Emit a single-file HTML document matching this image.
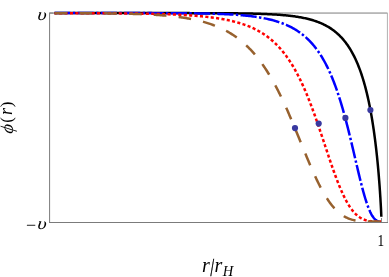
<!DOCTYPE html>
<html><head><meta charset="utf-8"><title>plot</title>
<style>
html,body{margin:0;padding:0;background:#fff;}
body{width:389px;height:277px;overflow:hidden;position:relative;font-family:"Liberation Serif",serif;}
svg{position:absolute;left:0;top:0;display:block;will-change:transform;}
text{font-family:"Liberation Serif",serif;fill:#000;}
</style></head><body>
<svg width="389" height="277" viewBox="0 0 389 277">
<rect width="389" height="277" fill="#fff"/>
<g fill="none" stroke-width="1">
<path d="M50,13.05 H387.5" stroke="#7c7c7c"/>
<path d="M387.4,13 V222" stroke="#b0b0b0"/>
</g>
<path d="M54.50,13.10 L55.67,13.10 L56.83,13.10 L58.00,13.10 L59.16,13.10 L60.32,13.10 L61.47,13.10 L62.63,13.10 L63.78,13.10 L64.92,13.10 L66.07,13.10 L67.21,13.10 L68.35,13.10 L69.49,13.10 L70.63,13.10 L71.76,13.10 L72.89,13.10 L74.02,13.10 L75.15,13.10 L76.27,13.10 L77.39,13.10 L78.51,13.10 L79.63,13.10 L80.74,13.10 L81.85,13.10 L82.96,13.10 L84.06,13.10 L85.17,13.10 L86.27,13.10 L87.37,13.10 L88.46,13.10 L89.56,13.10 L90.65,13.10 L91.74,13.10 L92.83,13.10 L93.91,13.10 L94.99,13.10 L96.07,13.10 L97.15,13.10 L98.22,13.10 L99.29,13.10 L100.36,13.10 L101.43,13.10 L102.49,13.10 L103.56,13.10 L104.62,13.10 L105.67,13.10 L106.73,13.10 L107.78,13.10 L108.83,13.10 L109.88,13.10 L110.92,13.10 L111.96,13.10 L113.01,13.10 L114.04,13.10 L115.08,13.10 L116.11,13.10 L117.14,13.10 L118.17,13.10 L119.20,13.10 L120.22,13.10 L121.24,13.10 L122.26,13.10 L123.28,13.10 L124.29,13.10 L125.30,13.10 L126.31,13.10 L127.32,13.10 L128.32,13.10 L129.32,13.10 L130.32,13.10 L131.32,13.10 L132.31,13.10 L133.31,13.10 L134.30,13.10 L135.28,13.10 L136.27,13.10 L137.25,13.10 L138.23,13.10 L139.21,13.10 L140.19,13.10 L141.16,13.10 L142.13,13.10 L143.10,13.10 L144.07,13.10 L145.03,13.10 L145.99,13.10 L146.95,13.10 L147.91,13.10 L148.86,13.10 L149.81,13.10 L150.76,13.10 L151.71,13.10 L152.66,13.10 L153.60,13.10 L154.54,13.10 L155.48,13.10 L156.42,13.10 L157.35,13.10 L158.28,13.10 L159.21,13.10 L160.14,13.11 L161.06,13.11 L161.98,13.11 L162.90,13.11 L163.82,13.11 L164.73,13.11 L165.65,13.11 L166.56,13.11 L167.46,13.11 L168.37,13.11 L169.27,13.11 L170.18,13.11 L171.07,13.11 L171.97,13.11 L172.87,13.11 L173.76,13.11 L174.65,13.11 L175.53,13.11 L176.42,13.11 L177.30,13.11 L178.18,13.11 L179.06,13.11 L179.94,13.11 L180.81,13.12 L181.68,13.12 L182.55,13.12 L183.42,13.12 L184.28,13.12 L185.15,13.12 L186.01,13.12 L186.86,13.12 L187.72,13.12 L188.57,13.12 L189.42,13.12 L190.27,13.13 L191.12,13.13 L191.96,13.13 L192.80,13.13 L193.64,13.13 L194.48,13.13 L195.32,13.13 L196.15,13.13 L196.98,13.14 L197.81,13.14 L198.64,13.14 L199.46,13.14 L200.28,13.14 L201.10,13.14 L201.92,13.15 L202.73,13.15 L203.55,13.15 L204.36,13.15 L205.17,13.16 L205.97,13.16 L206.78,13.16 L207.58,13.16 L208.38,13.16 L209.18,13.17 L209.97,13.17 L210.76,13.17 L211.55,13.18 L212.34,13.18 L213.13,13.18 L213.91,13.18 L214.70,13.19 L215.48,13.19 L216.25,13.20 L217.03,13.20 L217.80,13.20 L218.57,13.21 L219.34,13.21 L220.11,13.21 L220.87,13.22 L221.64,13.22 L222.40,13.23 L223.15,13.23 L223.91,13.24 L224.66,13.24 L225.41,13.25 L226.16,13.25 L226.91,13.26 L227.66,13.26 L228.40,13.27 L229.14,13.28 L229.88,13.28 L230.61,13.29 L231.35,13.30 L232.08,13.30 L232.81,13.31 L233.54,13.32 L234.26,13.32 L234.99,13.33 L235.71,13.34 L236.43,13.35 L237.15,13.36 L237.86,13.37 L238.57,13.38 L239.28,13.38 L239.99,13.39 L240.70,13.40 L241.40,13.41 L242.11,13.42 L242.81,13.43 L244.20,13.46 L245.58,13.48 L246.96,13.50 L248.33,13.53 L249.69,13.56 L251.04,13.59 L252.39,13.62 L253.72,13.65 L255.05,13.68 L256.37,13.72 L257.68,13.76 L258.98,13.80 L260.27,13.84 L261.56,13.88 L262.84,13.93 L264.10,13.98 L265.37,14.03 L266.62,14.08 L267.86,14.13 L269.10,14.19 L270.33,14.25 L271.55,14.32 L272.76,14.38 L273.96,14.45 L275.16,14.52 L276.35,14.60 L277.53,14.68 L278.70,14.76 L279.87,14.85 L281.02,14.94 L282.17,15.03 L283.31,15.13 L284.44,15.23 L285.57,15.34 L286.68,15.45 L287.79,15.56 L288.89,15.68 L289.99,15.80 L291.07,15.93 L292.15,16.07 L293.22,16.21 L294.28,16.35 L295.34,16.50 L296.39,16.65 L297.42,16.82 L298.46,16.98 L299.48,17.16 L300.50,17.34 L301.51,17.52 L302.51,17.71 L303.50,17.91 L304.49,18.12 L305.46,18.33 L306.44,18.55 L307.40,18.78 L308.36,19.02 L309.30,19.26 L310.25,19.51 L311.18,19.77 L312.11,20.04 L313.02,20.31 L313.94,20.60 L314.84,20.89 L315.74,21.19 L316.63,21.51 L317.51,21.83 L318.39,22.16 L319.25,22.50 L320.11,22.85 L320.97,23.21 L321.82,23.58 L322.65,23.96 L323.49,24.36 L324.31,24.76 L325.13,25.17 L325.94,25.60 L326.75,26.04 L327.54,26.49 L328.33,26.95 L329.12,27.42 L329.89,27.90 L330.66,28.40 L331.42,28.91 L332.18,29.43 L332.93,29.97 L333.67,30.52 L334.40,31.08 L335.13,31.66 L335.85,32.24 L336.57,32.85 L337.27,33.46 L337.97,34.09 L338.67,34.74 L339.36,35.40 L340.04,36.07 L340.71,36.76 L341.38,37.46 L342.04,38.18 L342.69,38.91 L343.34,39.66 L343.98,40.43 L344.62,41.21 L345.25,42.00 L345.87,42.81 L346.48,43.64 L347.09,44.48 L347.70,45.34 L348.29,46.21 L348.88,47.11 L349.46,48.01 L350.04,48.94 L350.61,49.88 L351.18,50.83 L351.74,51.80 L352.29,52.79 L352.83,53.80 L353.37,54.82 L353.91,55.86 L354.44,56.92 L354.96,57.99 L355.47,59.08 L355.98,60.19 L356.48,61.31 L356.98,62.45 L357.47,63.60 L357.96,64.78 L358.44,65.97 L358.91,67.17 L359.38,68.39 L359.84,69.63 L360.30,70.89 L360.75,72.16 L361.19,73.45 L361.63,74.75 L362.06,76.07 L362.49,77.40 L362.70,78.08 L362.91,78.75 L363.12,79.43 L363.33,80.12 L363.53,80.81 L363.74,81.50 L363.94,82.20 L364.14,82.90 L364.34,83.60 L364.54,84.31 L364.74,85.02 L364.93,85.74 L365.13,86.45 L365.32,87.18 L365.51,87.90 L365.71,88.63 L365.89,89.36 L366.08,90.10 L366.27,90.84 L366.45,91.58 L366.64,92.33 L366.82,93.08 L367.00,93.84 L367.18,94.59 L367.36,95.35 L367.54,96.12 L367.71,96.88 L367.89,97.65 L368.06,98.43 L368.23,99.20 L368.40,99.98 L368.57,100.76 L368.74,101.55 L368.90,102.34 L369.07,103.13 L369.23,103.92 L369.40,104.72 L369.56,105.52 L369.72,106.32 L369.87,107.13 L370.03,107.93 L370.19,108.74 L370.34,109.56 L370.50,110.37 L370.65,111.19 L370.80,112.01 L370.95,112.83 L371.10,113.66 L371.24,114.48 L371.39,115.31 L371.54,116.15 L371.68,116.98 L371.82,117.82 L371.96,118.65 L372.10,119.49 L372.24,120.33 L372.38,121.18 L372.51,122.02 L372.65,122.87 L372.78,123.72 L372.91,124.57 L373.04,125.42 L373.17,126.27 L373.30,127.13 L373.43,127.98 L373.56,128.84 L373.68,129.70 L373.81,130.56 L373.93,131.42 L374.05,132.28 L374.17,133.14 L374.29,134.00 L374.41,134.87 L374.52,135.73 L374.64,136.60 L374.75,137.46 L374.87,138.33 L374.98,139.20 L375.09,140.06 L375.20,140.93 L375.31,141.80 L375.42,142.66 L375.52,143.53 L375.63,144.40 L375.73,145.27 L375.84,146.13 L375.94,147.00 L376.04,147.87 L376.14,148.73 L376.24,149.60 L376.34,150.46 L376.43,151.33 L376.53,152.19 L376.62,153.05 L376.72,153.91 L376.81,154.77 L376.90,155.63 L376.99,156.49 L377.08,157.34 L377.17,158.20 L377.25,159.05 L377.34,159.90 L377.42,160.75 L377.51,161.60 L377.59,162.45 L377.67,163.29 L377.75,164.13 L377.83,164.97 L377.91,165.81 L377.99,166.64 L378.06,167.48 L378.14,168.31 L378.21,169.13 L378.29,169.96 L378.36,170.78 L378.43,171.60 L378.50,172.41 L378.57,173.22 L378.64,174.03 L378.71,174.84 L378.77,175.64 L378.84,176.44 L378.90,177.23 L378.97,178.02 L379.03,178.81 L379.09,179.59 L379.15,180.37 L379.21,181.14 L379.27,181.91 L379.33,182.67 L379.39,183.43 L379.44,184.19 L379.50,184.94 L379.55,185.69 L379.61,186.43 L379.66,187.16 L379.71,187.89 L379.76,188.62 L379.81,189.34 L379.86,190.05 L379.91,190.76 L379.96,191.46 L380.05,192.85 L380.14,194.21 L380.23,195.55 L380.31,196.86 L380.39,198.15 L380.46,199.40 L380.53,200.63 L380.60,201.83 L380.67,203.00 L380.73,204.14 L380.79,205.25 L380.85,206.32 L380.91,207.37 L380.96,208.38 L381.01,209.35 L381.05,210.29 L381.10,211.20 L381.14,212.07 L381.17,212.90 L381.21,213.70 L381.24,214.45 L381.27,215.18 L381.32,216.19 L381.34,216.81" fill="none" stroke="#000000" stroke-width="2.5" stroke-linecap="butt" stroke-linejoin="round"/>
<path d="M54.50,13.10 L55.67,13.10 L56.83,13.10 L58.00,13.10 L59.16,13.10 L60.32,13.10 L61.47,13.10 L62.63,13.10 L63.78,13.10 L64.92,13.10 L66.07,13.10 L67.21,13.10 L68.35,13.10 L69.49,13.10 L70.63,13.10 L71.76,13.10 L72.89,13.10 L74.02,13.10 L75.15,13.10 L76.27,13.10 L77.39,13.10 L78.51,13.10 L79.63,13.10 L80.74,13.10 L81.85,13.10 L82.96,13.10 L84.06,13.10 L85.17,13.10 L86.27,13.10 L87.37,13.10 L88.46,13.10 L89.56,13.10 L90.65,13.10 L91.74,13.10 L92.83,13.10 L93.91,13.10 L94.99,13.10 L96.07,13.10 L97.15,13.10 L98.22,13.10 L99.29,13.10 L100.36,13.10 L101.43,13.10 L102.49,13.10 L103.56,13.10 L104.62,13.10 L105.67,13.10 L106.73,13.10 L107.78,13.10 L108.83,13.10 L109.88,13.10 L110.92,13.10 L111.96,13.10 L113.01,13.10 L114.04,13.10 L115.08,13.10 L116.11,13.10 L117.14,13.10 L118.17,13.10 L119.20,13.10 L120.22,13.10 L121.24,13.10 L122.26,13.10 L123.28,13.10 L124.29,13.10 L125.30,13.10 L126.31,13.10 L127.32,13.11 L128.32,13.11 L129.32,13.11 L130.32,13.11 L131.32,13.11 L132.31,13.11 L133.31,13.11 L134.30,13.11 L135.28,13.11 L136.27,13.11 L137.25,13.11 L138.23,13.11 L139.21,13.11 L140.19,13.11 L141.16,13.11 L142.13,13.11 L143.10,13.11 L144.07,13.12 L145.03,13.12 L145.99,13.12 L146.95,13.12 L147.91,13.12 L148.86,13.12 L149.81,13.12 L150.76,13.12 L151.71,13.12 L152.66,13.13 L153.60,13.13 L154.54,13.13 L155.48,13.13 L156.42,13.13 L157.35,13.13 L158.28,13.14 L159.21,13.14 L160.14,13.14 L161.06,13.14 L161.98,13.15 L162.90,13.15 L163.82,13.15 L164.73,13.15 L165.65,13.16 L166.56,13.16 L167.46,13.16 L168.37,13.16 L169.27,13.17 L170.18,13.17 L171.07,13.17 L171.97,13.18 L172.87,13.18 L173.76,13.19 L174.65,13.19 L175.53,13.20 L176.42,13.20 L177.30,13.20 L178.18,13.21 L179.06,13.22 L179.94,13.22 L180.81,13.23 L181.68,13.23 L182.55,13.24 L183.42,13.24 L184.28,13.25 L185.15,13.26 L186.01,13.27 L186.86,13.27 L187.72,13.28 L188.57,13.29 L189.42,13.30 L190.27,13.31 L191.12,13.31 L191.96,13.32 L192.80,13.33 L193.64,13.34 L194.48,13.35 L195.32,13.36 L196.15,13.38 L196.98,13.39 L197.81,13.40 L198.64,13.41 L199.46,13.42 L200.28,13.44 L201.10,13.45 L201.92,13.46 L202.73,13.48 L203.55,13.49 L204.36,13.51 L205.17,13.53 L205.97,13.54 L206.78,13.56 L207.58,13.58 L208.38,13.59 L209.18,13.61 L209.97,13.63 L210.76,13.65 L211.55,13.67 L212.34,13.69 L213.13,13.72 L213.91,13.74 L214.70,13.76 L215.48,13.79 L216.25,13.81 L217.03,13.83 L217.80,13.86 L218.57,13.89 L219.34,13.92 L220.11,13.94 L220.87,13.97 L221.64,14.00 L222.40,14.03 L223.15,14.06 L223.91,14.10 L224.66,14.13 L225.41,14.17 L226.16,14.20 L226.91,14.24 L227.66,14.27 L228.40,14.31 L229.14,14.35 L229.88,14.39 L230.61,14.43 L231.35,14.48 L232.08,14.52 L232.81,14.56 L233.54,14.61 L234.26,14.66 L234.99,14.70 L235.71,14.75 L236.43,14.80 L237.15,14.86 L237.86,14.91 L238.57,14.96 L239.28,15.02 L239.99,15.08 L240.70,15.13 L241.40,15.19 L242.11,15.25 L242.81,15.32 L243.50,15.38 L244.89,15.51 L246.27,15.65 L247.65,15.80 L249.01,15.95 L250.37,16.11 L251.72,16.27 L253.05,16.45 L254.39,16.63 L255.71,16.82 L257.02,17.01 L258.33,17.22 L259.63,17.43 L260.92,17.65 L262.20,17.88 L263.47,18.12 L264.74,18.37 L265.99,18.63 L267.24,18.90 L268.48,19.18 L269.72,19.47 L270.94,19.77 L272.16,20.08 L273.36,20.41 L274.56,20.74 L275.76,21.09 L276.94,21.45 L278.12,21.83 L279.28,22.22 L280.44,22.62 L281.60,23.03 L282.74,23.46 L283.88,23.91 L285.01,24.37 L286.13,24.84 L287.24,25.33 L288.35,25.84 L289.44,26.37 L290.53,26.91 L291.61,27.47 L292.69,28.05 L293.75,28.64 L294.81,29.26 L295.86,29.90 L296.91,30.55 L297.94,31.23 L298.97,31.92 L299.99,32.64 L301.00,33.38 L302.01,34.14 L303.00,34.93 L303.99,35.74 L304.98,36.57 L305.95,37.43 L306.92,38.31 L307.88,39.22 L308.83,40.15 L309.78,41.11 L310.71,42.10 L311.64,43.12 L312.57,44.16 L313.02,44.69 L313.48,45.23 L313.94,45.78 L314.39,46.33 L314.84,46.90 L315.29,47.46 L315.74,48.04 L316.18,48.63 L316.63,49.22 L317.07,49.82 L317.51,50.42 L317.95,51.04 L318.39,51.66 L318.82,52.29 L319.25,52.93 L319.69,53.58 L320.11,54.24 L320.54,54.90 L320.97,55.57 L321.39,56.25 L321.82,56.94 L322.24,57.64 L322.65,58.34 L323.07,59.05 L323.49,59.77 L323.90,60.50 L324.31,61.24 L324.72,61.99 L325.13,62.75 L325.54,63.51 L325.94,64.28 L326.34,65.06 L326.75,65.85 L327.14,66.65 L327.54,67.46 L327.94,68.28 L328.33,69.10 L328.72,69.94 L329.12,70.78 L329.50,71.63 L329.89,72.49 L330.28,73.36 L330.66,74.23 L331.04,75.12 L331.42,76.01 L331.80,76.92 L332.18,77.83 L332.55,78.75 L332.93,79.68 L333.30,80.61 L333.67,81.56 L334.04,82.51 L334.40,83.47 L334.77,84.44 L335.13,85.42 L335.49,86.41 L335.85,87.40 L336.21,88.40 L336.57,89.41 L336.92,90.43 L337.27,91.45 L337.63,92.48 L337.97,93.52 L338.32,94.57 L338.67,95.63 L339.01,96.69 L339.36,97.75 L339.70,98.83 L340.04,99.91 L340.38,101.00 L340.71,102.09 L341.05,103.19 L341.38,104.30 L341.71,105.41 L342.04,106.53 L342.37,107.65 L342.69,108.78 L343.02,109.91 L343.34,111.05 L343.66,112.19 L343.98,113.34 L344.30,114.49 L344.62,115.64 L344.93,116.80 L345.25,117.96 L345.56,119.13 L345.87,120.29 L346.18,121.46 L346.48,122.64 L346.79,123.81 L347.09,124.99 L347.39,126.17 L347.70,127.35 L347.99,128.53 L348.29,129.71 L348.59,130.89 L348.88,132.08 L349.17,133.26 L349.46,134.44 L349.75,135.62 L350.04,136.81 L350.33,137.99 L350.61,139.16 L350.90,140.34 L351.18,141.52 L351.46,142.69 L351.74,143.86 L352.01,145.02 L352.29,146.19 L352.56,147.35 L352.83,148.50 L353.10,149.65 L353.37,150.80 L353.64,151.94 L353.91,153.08 L354.17,154.21 L354.44,155.34 L354.70,156.46 L354.96,157.58 L355.22,158.69 L355.47,159.79 L355.73,160.88 L355.98,161.97 L356.23,163.05 L356.48,164.12 L356.73,165.19 L356.98,166.24 L357.23,167.29 L357.47,168.33 L357.72,169.36 L357.96,170.38 L358.20,171.39 L358.44,172.39 L358.68,173.39 L358.91,174.37 L359.15,175.34 L359.38,176.30 L359.61,177.26 L359.84,178.20 L360.07,179.13 L360.30,180.05 L360.52,180.96 L360.75,181.85 L360.97,182.74 L361.19,183.61 L361.41,184.48 L361.63,185.33 L361.85,186.17 L362.06,187.00 L362.28,187.82 L362.49,188.62 L362.70,189.41 L362.91,190.19 L363.12,190.96 L363.33,191.72 L363.53,192.47 L363.74,193.20 L363.94,193.92 L364.14,194.63 L364.34,195.32 L364.54,196.01 L364.74,196.68 L365.13,197.99 L365.51,199.25 L365.89,200.46 L366.27,201.63 L366.64,202.75 L367.00,203.82 L367.36,204.85 L367.71,205.84 L368.06,206.78 L368.40,207.67 L368.74,208.53 L369.07,209.35 L369.40,210.12 L369.72,210.86 L370.03,211.56 L370.34,212.23 L370.65,212.86 L371.10,213.74 L371.54,214.55 L371.96,215.30 L372.38,215.97 L372.78,216.59 L373.30,217.33 L373.81,217.98 L374.29,218.54 L374.87,219.14 L375.42,219.64 L376.04,220.13 L376.72,220.56 L377.34,220.89 L378.06,221.17 L378.77,221.37 L379.50,221.50 L380.23,221.57 L380.93,221.60 L381.50,221.60" fill="none" stroke="#0000ff" stroke-width="2.5" stroke-dasharray="16.2 2.4 2.4 2.3" stroke-dashoffset="0.3" stroke-linecap="butt" stroke-linejoin="round"/>
<path d="M54.50,13.13 L55.67,13.13 L56.83,13.13 L58.00,13.13 L59.16,13.14 L60.32,13.14 L61.47,13.14 L62.63,13.14 L63.78,13.14 L64.92,13.14 L66.07,13.15 L67.21,13.15 L68.35,13.15 L69.49,13.15 L70.63,13.15 L71.76,13.16 L72.89,13.16 L74.02,13.16 L75.15,13.16 L76.27,13.17 L77.39,13.17 L78.51,13.17 L79.63,13.17 L80.74,13.18 L81.85,13.18 L82.96,13.18 L84.06,13.19 L85.17,13.19 L86.27,13.19 L87.37,13.20 L88.46,13.20 L89.56,13.20 L90.65,13.21 L91.74,13.21 L92.83,13.21 L93.91,13.22 L94.99,13.22 L96.07,13.23 L97.15,13.23 L98.22,13.24 L99.29,13.24 L100.36,13.25 L101.43,13.25 L102.49,13.26 L103.56,13.26 L104.62,13.27 L105.67,13.28 L106.73,13.28 L107.78,13.29 L108.83,13.29 L109.88,13.30 L110.92,13.31 L111.96,13.31 L113.01,13.32 L114.04,13.33 L115.08,13.34 L116.11,13.35 L117.14,13.35 L118.17,13.36 L119.20,13.37 L120.22,13.38 L121.24,13.39 L122.26,13.40 L123.28,13.41 L124.29,13.42 L125.30,13.43 L126.31,13.44 L127.32,13.45 L128.32,13.46 L129.32,13.47 L130.32,13.48 L131.32,13.50 L132.31,13.51 L133.31,13.52 L134.30,13.53 L135.28,13.55 L136.27,13.56 L137.25,13.58 L138.23,13.59 L139.21,13.60 L140.19,13.62 L141.16,13.64 L142.13,13.65 L143.10,13.67 L144.07,13.69 L145.03,13.70 L145.99,13.72 L146.95,13.74 L147.91,13.76 L148.86,13.78 L149.81,13.80 L150.76,13.82 L151.71,13.84 L152.66,13.86 L153.60,13.88 L154.54,13.90 L155.48,13.93 L156.42,13.95 L157.35,13.97 L158.28,14.00 L159.21,14.02 L160.14,14.05 L161.06,14.08 L161.98,14.10 L162.90,14.13 L163.82,14.16 L164.73,14.19 L165.65,14.22 L166.56,14.25 L167.46,14.28 L168.37,14.32 L169.27,14.35 L170.18,14.38 L171.07,14.42 L171.97,14.45 L172.87,14.49 L173.76,14.53 L174.65,14.56 L175.53,14.60 L176.42,14.64 L177.30,14.68 L178.18,14.72 L179.06,14.77 L179.94,14.81 L180.81,14.86 L181.68,14.90 L182.55,14.95 L183.42,15.00 L184.28,15.04 L185.15,15.09 L186.01,15.15 L186.86,15.20 L187.72,15.25 L188.57,15.31 L189.42,15.36 L190.27,15.42 L191.12,15.48 L191.96,15.54 L192.80,15.60 L193.64,15.66 L194.48,15.72 L195.32,15.79 L196.15,15.86 L196.98,15.92 L197.81,15.99 L198.64,16.06 L199.46,16.14 L200.28,16.21 L201.10,16.29 L201.92,16.36 L202.73,16.44 L203.55,16.52 L204.36,16.61 L205.17,16.69 L205.97,16.78 L206.78,16.87 L207.58,16.96 L208.38,17.05 L209.18,17.14 L209.97,17.24 L210.76,17.33 L211.55,17.43 L212.34,17.54 L213.13,17.64 L213.91,17.75 L214.70,17.86 L215.48,17.97 L216.25,18.08 L217.03,18.19 L217.80,18.31 L218.57,18.43 L219.34,18.56 L220.11,18.68 L220.87,18.81 L221.64,18.94 L222.40,19.07 L223.15,19.21 L223.91,19.35 L224.66,19.49 L225.41,19.63 L226.16,19.78 L226.91,19.93 L227.66,20.09 L228.40,20.24 L229.14,20.40 L229.88,20.56 L230.61,20.73 L231.35,20.90 L232.08,21.07 L232.81,21.25 L233.54,21.43 L234.26,21.61 L234.99,21.80 L235.71,21.99 L236.43,22.19 L237.15,22.38 L237.86,22.59 L238.57,22.79 L239.28,23.00 L239.99,23.22 L240.70,23.44 L241.40,23.66 L242.11,23.89 L242.81,24.12 L243.50,24.36 L244.20,24.60 L244.89,24.84 L245.58,25.09 L246.27,25.35 L246.96,25.61 L247.65,25.87 L248.33,26.14 L249.01,26.42 L249.69,26.70 L250.37,26.98 L251.04,27.27 L251.72,27.57 L252.39,27.87 L253.05,28.18 L253.72,28.49 L254.39,28.81 L255.05,29.14 L255.71,29.47 L256.37,29.81 L257.02,30.15 L257.68,30.50 L258.33,30.86 L258.98,31.22 L259.63,31.59 L260.27,31.96 L260.92,32.35 L261.56,32.74 L262.20,33.13 L262.84,33.54 L263.47,33.95 L264.10,34.37 L264.74,34.79 L265.37,35.23 L265.99,35.67 L266.62,36.11 L267.24,36.57 L267.86,37.03 L268.48,37.51 L269.10,37.99 L269.72,38.47 L270.33,38.97 L270.94,39.48 L271.55,39.99 L272.16,40.51 L272.76,41.04 L273.36,41.58 L273.96,42.13 L274.56,42.69 L275.16,43.25 L275.76,43.83 L276.35,44.42 L276.94,45.01 L277.53,45.61 L278.12,46.23 L278.70,46.85 L279.28,47.48 L279.87,48.13 L280.44,48.78 L281.02,49.44 L281.60,50.11 L282.17,50.80 L282.74,51.49 L283.31,52.19 L283.88,52.90 L284.44,53.63 L285.01,54.36 L285.57,55.11 L286.13,55.86 L286.68,56.63 L287.24,57.41 L287.79,58.19 L288.35,58.99 L288.89,59.80 L289.44,60.62 L289.99,61.45 L290.53,62.29 L291.07,63.15 L291.61,64.01 L292.15,64.88 L292.69,65.77 L293.22,66.66 L293.75,67.57 L294.28,68.49 L294.81,69.42 L295.34,70.36 L295.86,71.31 L296.39,72.27 L296.91,73.24 L297.42,74.22 L297.94,75.21 L298.46,76.22 L298.97,77.23 L299.48,78.26 L299.99,79.29 L300.50,80.33 L301.00,81.39 L301.51,82.45 L302.01,83.53 L302.51,84.61 L303.00,85.70 L303.50,86.81 L303.99,87.92 L304.49,89.04 L304.98,90.17 L305.46,91.31 L305.95,92.45 L306.44,93.61 L306.92,94.77 L307.40,95.94 L307.88,97.12 L308.36,98.30 L308.83,99.50 L309.30,100.70 L309.78,101.90 L310.25,103.11 L310.71,104.33 L311.18,105.56 L311.64,106.79 L312.11,108.02 L312.57,109.26 L313.02,110.51 L313.48,111.75 L313.94,113.01 L314.39,114.26 L314.84,115.52 L315.29,116.79 L315.74,118.05 L316.18,119.32 L316.63,120.59 L317.07,121.86 L317.51,123.13 L317.95,124.41 L318.39,125.68 L318.82,126.96 L319.25,128.23 L319.69,129.50 L320.11,130.77 L320.54,132.05 L320.97,133.32 L321.39,134.58 L321.82,135.85 L322.24,137.11 L322.65,138.37 L323.07,139.62 L323.49,140.88 L323.90,142.12 L324.31,143.37 L324.72,144.60 L325.13,145.84 L325.54,147.06 L325.94,148.28 L326.34,149.50 L326.75,150.71 L327.14,151.91 L327.54,153.10 L327.94,154.29 L328.33,155.47 L328.72,156.64 L329.12,157.80 L329.50,158.95 L329.89,160.09 L330.28,161.23 L330.66,162.35 L331.04,163.47 L331.42,164.57 L331.80,165.67 L332.18,166.75 L332.55,167.82 L332.93,168.89 L333.30,169.94 L333.67,170.98 L334.04,172.01 L334.40,173.02 L334.77,174.03 L335.13,175.02 L335.49,176.00 L335.85,176.97 L336.21,177.93 L336.57,178.87 L336.92,179.80 L337.27,180.72 L337.63,181.63 L337.97,182.52 L338.32,183.40 L338.67,184.27 L339.01,185.12 L339.36,185.96 L339.70,186.79 L340.04,187.61 L340.38,188.41 L340.71,189.20 L341.05,189.98 L341.38,190.74 L341.71,191.49 L342.04,192.23 L342.37,192.95 L342.69,193.66 L343.02,194.36 L343.34,195.05 L343.66,195.72 L343.98,196.38 L344.30,197.03 L344.62,197.67 L345.25,198.90 L345.87,200.09 L346.48,201.23 L347.09,202.32 L347.70,203.36 L348.29,204.37 L348.88,205.32 L349.46,206.24 L350.04,207.11 L350.61,207.94 L351.18,208.74 L351.74,209.49 L352.29,210.21 L352.83,210.90 L353.37,211.55 L353.91,212.16 L354.44,212.75 L354.96,213.30 L355.47,213.83 L355.98,214.32 L356.73,215.02 L357.47,215.66 L358.20,216.24 L358.91,216.77 L359.61,217.26 L360.30,217.71 L360.97,218.11 L361.63,218.48 L362.28,218.81 L362.91,219.12 L363.74,219.48 L364.54,219.79 L365.32,220.06 L366.08,220.30 L366.82,220.50 L367.54,220.67 L368.23,220.82 L369.07,220.98 L369.87,221.11 L370.65,221.21 L371.39,221.30 L372.10,221.37 L372.91,221.43 L373.68,221.48 L374.41,221.51 L375.20,221.54 L375.94,221.56 L376.72,221.58 L377.42,221.59 L378.14,221.59 L378.84,221.60 L379.55,221.60 L380.27,221.60 L380.98,221.60 L381.50,221.60" fill="none" stroke="#ff0000" stroke-width="2.5" stroke-dasharray="3.1 2.32" stroke-dashoffset="0.83" stroke-linecap="butt" stroke-linejoin="round"/>
<path d="M54.50,13.13 L55.67,13.13 L56.83,13.13 L58.00,13.13 L59.16,13.13 L60.32,13.13 L61.47,13.14 L62.63,13.14 L63.78,13.14 L64.92,13.14 L66.07,13.14 L67.21,13.15 L68.35,13.15 L69.49,13.15 L70.63,13.16 L71.76,13.16 L72.89,13.16 L74.02,13.16 L75.15,13.17 L76.27,13.17 L77.39,13.18 L78.51,13.18 L79.63,13.18 L80.74,13.19 L81.85,13.19 L82.96,13.20 L84.06,13.20 L85.17,13.21 L86.27,13.21 L87.37,13.22 L88.46,13.22 L89.56,13.23 L90.65,13.24 L91.74,13.24 L92.83,13.25 L93.91,13.26 L94.99,13.27 L96.07,13.27 L97.15,13.28 L98.22,13.29 L99.29,13.30 L100.36,13.31 L101.43,13.32 L102.49,13.33 L103.56,13.34 L104.62,13.35 L105.67,13.36 L106.73,13.37 L107.78,13.38 L108.83,13.40 L109.88,13.41 L110.92,13.42 L111.96,13.44 L113.01,13.45 L114.04,13.47 L115.08,13.48 L116.11,13.50 L117.14,13.52 L118.17,13.53 L119.20,13.55 L120.22,13.57 L121.24,13.59 L122.26,13.61 L123.28,13.63 L124.29,13.65 L125.30,13.67 L126.31,13.70 L127.32,13.72 L128.32,13.75 L129.32,13.77 L130.32,13.80 L131.32,13.82 L132.31,13.85 L133.31,13.88 L134.30,13.91 L135.28,13.94 L136.27,13.97 L137.25,14.01 L138.23,14.04 L139.21,14.08 L140.19,14.11 L141.16,14.15 L142.13,14.19 L143.10,14.23 L144.07,14.27 L145.03,14.31 L145.99,14.35 L146.95,14.40 L147.91,14.44 L148.86,14.49 L149.81,14.54 L150.76,14.59 L151.71,14.64 L152.66,14.70 L153.60,14.75 L154.54,14.81 L155.48,14.87 L156.42,14.92 L157.35,14.99 L158.28,15.05 L159.21,15.11 L160.14,15.18 L161.06,15.25 L161.98,15.32 L162.90,15.39 L163.82,15.47 L164.73,15.54 L165.65,15.62 L166.56,15.70 L167.46,15.78 L168.37,15.87 L169.27,15.96 L170.18,16.05 L171.07,16.14 L171.97,16.23 L172.87,16.33 L173.76,16.43 L174.65,16.53 L175.53,16.63 L176.42,16.74 L177.30,16.85 L178.18,16.96 L179.06,17.08 L179.94,17.20 L180.81,17.32 L181.68,17.44 L182.55,17.57 L183.42,17.70 L184.28,17.83 L185.15,17.97 L186.01,18.11 L186.86,18.25 L187.72,18.40 L188.57,18.55 L189.42,18.70 L190.27,18.86 L191.12,19.02 L191.96,19.18 L192.80,19.35 L193.64,19.52 L194.48,19.70 L195.32,19.88 L196.15,20.06 L196.98,20.25 L197.81,20.44 L198.64,20.64 L199.46,20.84 L200.28,21.05 L201.10,21.26 L201.92,21.47 L202.73,21.69 L203.55,21.92 L204.36,22.15 L205.17,22.38 L205.97,22.62 L206.78,22.86 L207.58,23.11 L208.38,23.37 L209.18,23.62 L209.97,23.89 L210.76,24.16 L211.55,24.44 L212.34,24.72 L213.13,25.01 L213.91,25.30 L214.70,25.60 L215.48,25.90 L216.25,26.22 L217.03,26.53 L217.80,26.86 L218.57,27.19 L219.34,27.52 L220.11,27.87 L220.87,28.22 L221.64,28.58 L222.40,28.94 L223.15,29.31 L223.91,29.69 L224.66,30.07 L225.41,30.46 L226.16,30.86 L226.91,31.27 L227.66,31.69 L228.40,32.11 L229.14,32.54 L229.88,32.97 L230.61,33.42 L231.35,33.87 L232.08,34.34 L232.81,34.80 L233.54,35.28 L234.26,35.77 L234.99,36.26 L235.71,36.77 L236.43,37.28 L237.15,37.80 L237.86,38.33 L238.57,38.87 L239.28,39.42 L239.99,39.97 L240.70,40.54 L241.40,41.12 L242.11,41.70 L242.81,42.29 L243.50,42.90 L244.20,43.51 L244.89,44.14 L245.58,44.77 L246.27,45.41 L246.96,46.06 L247.65,46.73 L248.33,47.40 L249.01,48.08 L249.69,48.78 L250.37,49.48 L251.04,50.19 L251.72,50.92 L252.39,51.65 L253.05,52.40 L253.72,53.15 L254.39,53.92 L255.05,54.69 L255.71,55.48 L256.37,56.28 L257.02,57.09 L257.68,57.91 L258.33,58.74 L258.98,59.58 L259.63,60.43 L260.27,61.29 L260.92,62.16 L261.56,63.05 L262.20,63.94 L262.84,64.85 L263.47,65.76 L264.10,66.69 L264.74,67.63 L265.37,68.58 L265.99,69.53 L266.62,70.50 L267.24,71.48 L267.86,72.47 L268.48,73.47 L269.10,74.48 L269.72,75.50 L270.33,76.53 L270.94,77.57 L271.55,78.62 L272.16,79.68 L272.76,80.75 L273.36,81.83 L273.96,82.92 L274.56,84.02 L275.16,85.13 L275.76,86.24 L276.35,87.36 L276.94,88.50 L277.53,89.64 L278.12,90.79 L278.70,91.95 L279.28,93.11 L279.87,94.28 L280.44,95.46 L281.02,96.65 L281.60,97.84 L282.17,99.04 L282.74,100.25 L283.31,101.47 L283.88,102.68 L284.44,103.91 L285.01,105.14 L285.57,106.37 L286.13,107.61 L286.68,108.86 L287.24,110.11 L287.79,111.36 L288.35,112.62 L288.89,113.88 L289.44,115.14 L289.99,116.40 L290.53,117.67 L291.07,118.94 L291.61,120.21 L292.15,121.48 L292.69,122.76 L293.22,124.03 L293.75,125.31 L294.28,126.58 L294.81,127.85 L295.34,129.13 L295.86,130.40 L296.39,131.67 L296.91,132.94 L297.42,134.20 L297.94,135.47 L298.46,136.73 L298.97,137.99 L299.48,139.24 L299.99,140.49 L300.50,141.74 L301.00,142.98 L301.51,144.22 L302.01,145.45 L302.51,146.67 L303.00,147.89 L303.50,149.11 L303.99,150.31 L304.49,151.51 L304.98,152.71 L305.46,153.89 L305.95,155.07 L306.44,156.24 L306.92,157.40 L307.40,158.55 L307.88,159.70 L308.36,160.83 L308.83,161.96 L309.30,163.07 L309.78,164.18 L310.25,165.27 L310.71,166.36 L311.18,167.43 L311.64,168.50 L312.11,169.55 L312.57,170.59 L313.02,171.62 L313.48,172.64 L313.94,173.65 L314.39,174.65 L314.84,175.63 L315.29,176.60 L315.74,177.56 L316.18,178.51 L316.63,179.45 L317.07,180.37 L317.51,181.28 L317.95,182.18 L318.39,183.06 L318.82,183.93 L319.25,184.79 L319.69,185.64 L320.11,186.47 L320.54,187.30 L320.97,188.10 L321.39,188.90 L321.82,189.68 L322.24,190.45 L322.65,191.21 L323.07,191.95 L323.49,192.68 L323.90,193.40 L324.31,194.10 L324.72,194.80 L325.13,195.48 L325.54,196.14 L325.94,196.80 L326.34,197.44 L326.75,198.07 L327.14,198.69 L327.54,199.30 L327.94,199.89 L328.33,200.47 L329.12,201.60 L329.89,202.68 L330.66,203.72 L331.42,204.71 L332.18,205.66 L332.93,206.56 L333.67,207.43 L334.40,208.25 L335.13,209.04 L335.85,209.78 L336.57,210.49 L337.27,211.17 L337.97,211.81 L338.67,212.42 L339.36,213.00 L340.04,213.54 L340.71,214.06 L341.38,214.55 L342.04,215.01 L342.69,215.45 L343.34,215.86 L343.98,216.25 L344.62,216.61 L345.25,216.96 L345.87,217.28 L346.79,217.73 L347.70,218.14 L348.59,218.51 L349.46,218.84 L350.33,219.14 L351.18,219.42 L352.01,219.67 L352.83,219.89 L353.64,220.09 L354.44,220.27 L355.22,220.43 L355.98,220.57 L356.73,220.69 L357.47,220.81 L358.20,220.91 L358.91,221.00 L359.61,221.08 L360.52,221.17 L361.41,221.24 L362.28,221.31 L363.12,221.36 L363.94,221.41 L364.74,221.44 L365.51,221.47 L366.27,221.50 L367.00,221.52 L367.71,221.54 L368.57,221.55 L369.40,221.56 L370.19,221.57 L370.95,221.58 L371.68,221.59 L372.51,221.59 L373.30,221.59 L374.05,221.60 L374.75,221.60 L375.52,221.60 L376.24,221.60 L376.99,221.60 L377.75,221.60 L378.50,221.60 L379.21,221.60 L379.96,221.60 L380.67,221.60 L381.38,221.60 L381.50,221.60" fill="none" stroke="#97612e" stroke-width="2.5" stroke-dasharray="12.6 12.25" stroke-linecap="butt" stroke-linejoin="round"/>
<circle cx="295.0" cy="128.1" r="3.1" fill="#3939a0"/><circle cx="318.7" cy="123.6" r="3.1" fill="#3939a0"/><circle cx="345.4" cy="117.9" r="3.1" fill="#3939a0"/><circle cx="370.4" cy="110.0" r="3.1" fill="#3939a0"/>
<g fill="none" stroke-width="1">
<path d="M49.6,12.5 V223 M49,222.5 H388" stroke="#7b7b7b"/>
<path d="M49.5,13.05 h4" stroke="#7c7c7c"/>
<path d="M381.5,222 v-4" stroke="#888"/>
</g>
<text transform="translate(36.9,20.2) matrix(1.12,0,-0.1,0.93,0,0)" font-size="18" font-style="italic">υ</text>
<text x="26" y="230.5" font-size="18">−</text><text transform="translate(37.1,229.4) matrix(1.12,0,-0.1,0.93,0,0)" font-size="18" font-style="italic">υ</text>
<text transform="translate(377.6,245.5) scale(0.75,1)" font-size="17.7">1</text>
<text x="202" y="272.4" font-size="20" font-style="italic">r</text>
<text transform="translate(210.4,275.8) scale(0.5,1)" font-size="25" stroke="#000" stroke-width="0.7">/</text>
<text x="214.6" y="272.4" font-size="20" font-style="italic">r</text>
<text x="222.7" y="275.9" font-size="14.5" font-style="italic">H</text>
<g transform="translate(12.1,133.6) rotate(-90)" font-size="18">
<text transform="translate(-0.5,0.4) skewX(-8)" font-style="italic">ϕ</text>
<text x="10.8" y="0" font-size="17">(</text>
<text x="18.5" y="0" font-style="italic">r</text>
<text x="26.4" y="0" font-size="17">)</text>
</g>
</svg>
</body></html>
